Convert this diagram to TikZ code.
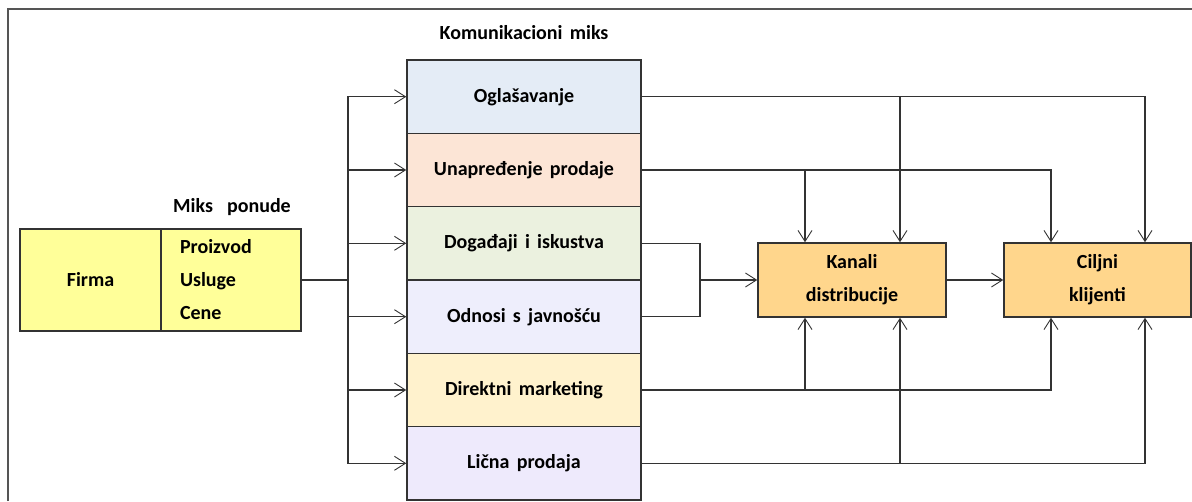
\documentclass[tikz,border=0pt]{standalone}
\usepackage{fontspec}
\setmainfont{Carlito}[WordSpace=1.6]
\usetikzlibrary{arrows.meta}
\definecolor{linegray}{HTML}{333333}
\definecolor{framegray}{HTML}{555555}
\definecolor{oglblue}{HTML}{E4ECF6}
\definecolor{unppeach}{HTML}{FCE5D6}
\definecolor{doggreen}{HTML}{EBF1DF}
\definecolor{odnlilac}{HTML}{EEEEFC}
\definecolor{diryellow}{HTML}{FFF2CD}
\definecolor{liclilac}{HTML}{EEEAFC}
\definecolor{firmyellow}{HTML}{FFFF99}
\definecolor{kanorange}{HTML}{FFD68C}
\begin{document}
\begin{tikzpicture}[x=1pt, y=-1pt, font=\fontsize{20}{33}\selectfont\bfseries,
  row/.style={draw=linegray, line width=1.5pt, minimum width=234pt, minimum height=73.3pt, inner sep=0pt},
  firmbox/.style={draw=linegray, line width=1.5pt, fill=firmyellow, minimum height=102pt, inner sep=0pt},
  goal/.style={draw=linegray, line width=1.5pt, fill=kanorange, minimum width=188pt, minimum height=74pt, align=center, inner sep=0pt},
  conn/.style={draw=linegray, line width=1.4pt},
  tip/.style={conn, -{Straight Barb[length=11pt, width=14pt, line width=0.9pt]}}]
\useasboundingbox (0,0) rectangle (1192,501);
% frame
\draw[framegray, line width=2pt] (8,501) -- (8,9) -- (1192,9);
% titles
\node (kmiks) at (524,33) {Komunikacioni miks};
\node (mponude) at (232,207) {Miks\hspace{14pt}ponude};
% offer mix
\node[firmbox, minimum width=141pt] (firma) at (90.5,280) {Firma};
\node[firmbox, minimum width=140pt, align=left, text width=102pt, inner xsep=19pt] (ponuda) at (231,280) {Proizvod\\Usluge\\Cene};
% communication mix
\node[row, fill=oglblue] (ogl) at (524,96.7) {Ogla\v{s}avanje};
\node[row, fill=unppeach] (unp) at (524,170) {Unapre\dj enje prodaje};
\node[row, fill=doggreen] (dog) at (524,243.3) {Doga\dj aji i iskustva};
\node[row, fill=odnlilac] (odn) at (524,316.7) {Odnosi s javno\v{s}\'cu};
\node[row, fill=diryellow] (dir) at (524,390) {Direktni marketing};
\node[row, fill=liclilac] (lic) at (524,463.3) {Li\v{c}na prodaja};
% targets
\node[goal] (kan) at (852,280) {Kanali\\distribucije};
\node[goal, minimum width=187pt] (cil) at (1097.5,280) {Ciljni\\klijenti};
\coordinate (kanA) at ([xshift=-47pt]kan.north);
\coordinate (kanB) at ([xshift=48pt]kan.north);
\coordinate (cilA) at ([xshift=-46.5pt]cil.north);
\coordinate (cilB) at ([xshift=47.5pt]cil.north);
\coordinate (kanAs) at ([xshift=-47pt]kan.south);
\coordinate (kanBs) at ([xshift=48pt]kan.south);
\coordinate (cilAs) at ([xshift=-46.5pt]cil.south);
\coordinate (cilBs) at ([xshift=47.5pt]cil.south);
% offer -> communication
\coordinate (bus) at (348,280);
\draw[conn] (ponuda.east) -- (bus);
\draw[tip] (bus) |- (ogl.west);
\draw[tip] (bus) |- (unp.west);
\draw[tip] (bus) |- (dog.west);
\draw[tip] (bus) |- (odn.west);
\draw[tip] (bus) |- (dir.west);
\draw[tip] (bus) |- (lic.west);
% communication -> channels / clients
\coordinate (mrg) at (700,280);
\draw[conn] (dog.east) -| (mrg);
\draw[conn] (odn.east) -| (mrg);
\draw[tip] (mrg) -- (kan.west);
\draw[tip] (kan) -- (cil);
\draw[tip] (ogl.east) -| (cilB);
\draw[tip] (kanB |- ogl.east) -- (kanB);
\draw[tip] (unp.east) -| (cilA);
\draw[tip] (kanA |- unp.east) -- (kanA);
\draw[tip] (dir.east) -| (cilAs);
\draw[tip] (kanAs |- dir.east) -- (kanAs);
\draw[tip] (lic.east) -| (cilBs);
\draw[tip] (kanBs |- lic.east) -- (kanBs);
\end{tikzpicture}
\end{document}
